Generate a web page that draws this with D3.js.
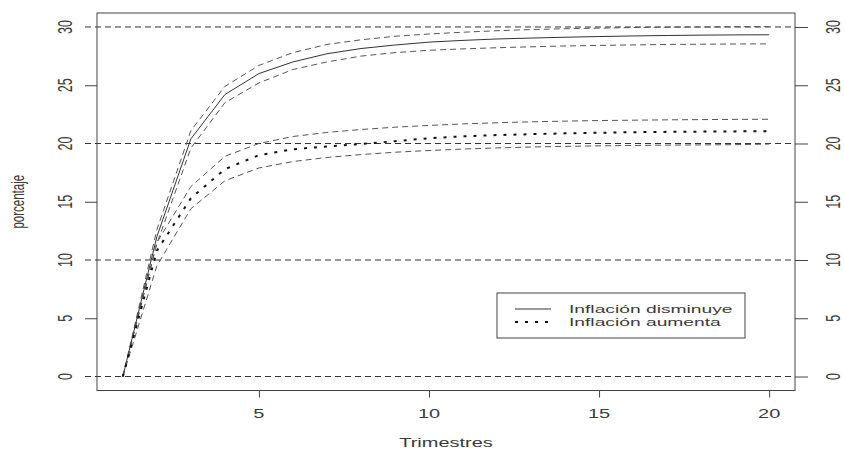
<!DOCTYPE html>
<html><head><meta charset="utf-8">
<script src="https://cdn.jsdelivr.net/npm/d3@7"></script>
<style>body{margin:0;background:#fff}svg{display:block}text{font-family:"Liberation Sans",Arial,sans-serif;fill:#3a3a3a}</style>
</head><body><svg id="c" width="845" height="450"></svg>
<script>
const trimestres = [1,2,3,4,5,6,7,8,9,10,11,12,13,14,15,16,17,18,19,20];
const dismMedia = [0,12.0,20.4,24.2,26.0,27.0,27.7,28.15,28.45,28.7,28.85,28.97,29.05,29.12,29.18,29.23,29.27,29.3,29.32,29.33];
const dismSup   = [0,12.6,21.1,24.9,26.7,27.8,28.5,28.9,29.2,29.4,29.55,29.68,29.78,29.85,29.9,29.95,29.98,30.0,30.02,30.03];
const dismInf   = [0,11.4,19.6,23.5,25.2,26.35,27.0,27.5,27.8,28.0,28.12,28.22,28.3,28.37,28.42,28.46,28.5,28.52,28.54,28.55];
const aumMedia  = [0,10.8,15.3,17.8,19.0,19.5,19.75,19.95,20.2,20.45,20.62,20.72,20.8,20.87,20.92,20.97,21.0,21.02,21.04,21.05];
const aumSup    = [0,11.5,16.3,18.9,20.0,20.6,20.95,21.2,21.4,21.55,21.68,21.78,21.86,21.92,21.97,22.0,22.03,22.05,22.07,22.08];
const aumInf    = [0,9.5,14.4,16.8,17.9,18.45,18.8,19.05,19.25,19.4,19.52,19.62,19.7,19.75,19.8,19.83,19.86,19.88,19.9,19.95];
const xTicks = [5,10,15,20];
const yTicks = [0,5,10,15,20,25,30];
const refLines = [0,10,20,30];
const legendLabels = ["Inflación disminuye","Inflación aumenta"];

const svg = d3.select("#c");
const L=97,R=795,T=13,B=390.5;
const x = d3.scaleLinear().domain([0.24,20.76]).range([L,R]);
const y = d3.scaleLinear().domain([-1.2,31.2]).range([B,T]);
const SX = 1.6;

// reference dashed lines
svg.selectAll(".ref").data(refLines).join("line")
  .attr("x1",85).attr("x2",R).attr("y1",d=>y(d)).attr("y2",d=>y(d))
  .attr("stroke","#333").attr("stroke-width",1).attr("stroke-dasharray","6,4");

// series
const line = d3.line().x((d,i)=>x(trimestres[i])).y(d=>y(d));
const series = [
  {v:dismSup, dash:"6,4", w:1, c:"#555"},
  {v:dismInf, dash:"6,4", w:1, c:"#555"},
  {v:dismMedia, dash:null, w:1, c:"#333"},
  {v:aumSup, dash:"6,4", w:1, c:"#555"},
  {v:aumInf, dash:"6,4", w:1, c:"#555"},
  {v:aumMedia, dash:"3,7", w:2, c:"#111"}
];
svg.selectAll(".s").data(series).join("path")
  .attr("d",d=>line(d.v)).attr("fill","none")
  .attr("stroke",d=>d.c).attr("stroke-width",d=>d.w)
  .attr("stroke-dasharray",d=>d.dash);

// box
svg.append("rect").attr("x",L).attr("y",T).attr("width",R-L).attr("height",B-T)
  .attr("fill","none").attr("stroke","#444").attr("stroke-width",1);

// bottom axis
const gx = svg.append("g").attr("transform",`translate(0,${B})`)
  .call(d3.axisBottom(x).tickValues(xTicks).tickSize(7).tickFormat(d3.format("d")));
gx.select(".domain").remove();
gx.selectAll("line").attr("stroke","#444");
gx.selectAll("text").remove();
svg.selectAll(".xl").data(xTicks).join("text")
  .attr("transform",d=>`translate(${x(d)},418) scale(${SX},1)`)
  .attr("text-anchor","middle").attr("font-size",12.5).text(d=>d);

// left axis
const gy = svg.append("g").attr("transform",`translate(${L},0)`)
  .call(d3.axisLeft(y).tickValues(yTicks.filter(d=>refLines.indexOf(d)<0)).tickSize(12));
gy.select(".domain").remove();
gy.selectAll("line").attr("stroke","#444");
gy.selectAll("text").remove();
svg.selectAll(".yl").data(yTicks).join("text")
  .attr("transform",d=>`translate(72,${y(d)}) scale(${SX},1) rotate(-90)`)
  .attr("text-anchor","middle").attr("font-size",12.5).text(d=>d);

// right axis
const gr = svg.append("g").attr("transform",`translate(${R},0)`)
  .call(d3.axisRight(y).tickValues(yTicks).tickSize(13));
gr.select(".domain").remove();
gr.selectAll("line").attr("stroke","#444");
gr.selectAll("text").remove();
svg.selectAll(".yr").data(yTicks).join("text")
  .attr("transform",d=>`translate(840,${y(d)}) scale(${SX},1) rotate(-90)`)
  .attr("text-anchor","middle").attr("font-size",12.5).text(d=>d);

// axis titles
svg.append("text").attr("transform",`translate(${(L+R)/2},447) scale(${SX},1)`)
  .attr("text-anchor","middle").attr("font-size",12.5).text("Trimestres");
svg.append("text").attr("transform",`translate(24,${(T+B)/2}) scale(${SX},1) rotate(-90)`)
  .attr("text-anchor","middle").attr("font-size",11.5).text("porcentaje");

// legend
const lg = svg.append("g");
lg.append("rect").attr("x",497).attr("y",293).attr("width",248).attr("height",45)
  .attr("fill","#fff").attr("stroke","#444");
const lrows = [{dash:null,w:1,c:"#333"},{dash:"3,7",w:2,c:"#111"}];
lrows.forEach((r,i)=>{
  const yy = 309 + i*13;
  lg.append("line").attr("x1",515).attr("x2",551).attr("y1",yy).attr("y2",yy)
    .attr("stroke",r.c).attr("stroke-width",r.w).attr("stroke-dasharray",r.dash);
  lg.append("text").attr("transform",`translate(569,${yy+4}) scale(1.75,1)`)
    .attr("font-size",11).text(legendLabels[i]);
});
</script></body></html>
